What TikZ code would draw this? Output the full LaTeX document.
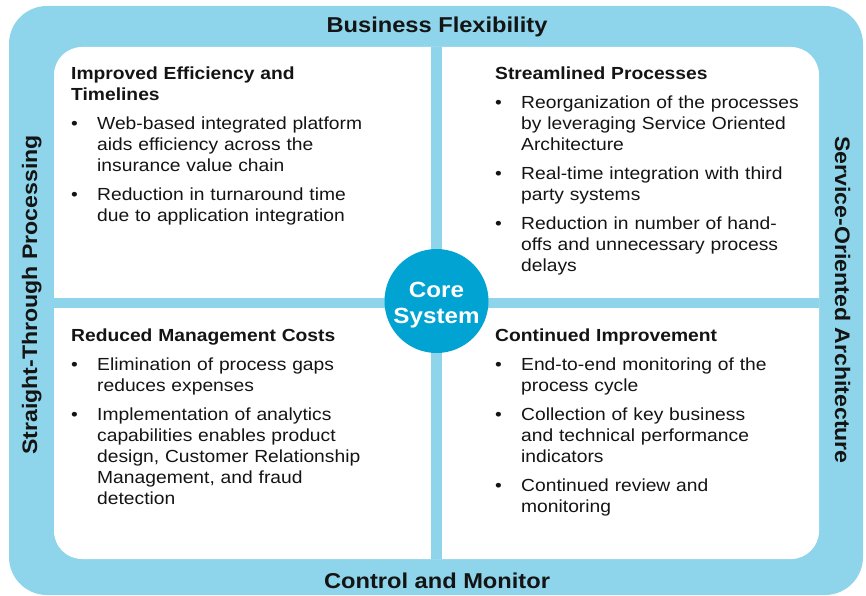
\documentclass[tikz,border=0pt]{standalone}
\usepackage{fontspec}
\setmainfont{Liberation Sans}[FakeStretch=1.1]

\definecolor{frameblue}{RGB}{142,212,234}
\definecolor{coreblue}{RGB}{0,163,209}
\definecolor{ink}{RGB}{20,20,20}

\newcommand{\panelhead}[1]{\noindent{\bfseries #1}\par}
\newcommand{\panelpoint}[1]{\par\vskip 8pt\hangindent=26pt\hangafter=1\noindent\makebox[26pt][l]{\textbullet}#1\par}

\begin{document}
\begin{tikzpicture}[
    x=1pt, y=-1pt,
    panel/.style={
      anchor=base west,
      inner sep=0pt,
      text width=330pt,
      text=ink,
      font=\fontsize{17.5}{21}\selectfont,
    },
    side/.style={
      anchor=base,
      inner sep=0pt,
      text=ink,
      font=\fontsize{21}{25}\selectfont\bfseries,
    },
    core/.style={
      circle,
      fill=coreblue,
      minimum size=104pt,
      inner sep=0pt,
    },
    core text/.style={
      inner sep=0pt,
      text=white,
      align=center,
      font=\fontsize{22}{26}\selectfont\bfseries,
    },
  ]
  \useasboundingbox (0,0) rectangle (866,596);

  \fill[frameblue, rounded corners=38pt] (9,6) rectangle (863,595);
  \fill[white, rounded corners=28pt] (54,47) rectangle (819,559);
  \fill[frameblue] (431,47) rectangle (442,559);
  \fill[frameblue] (54,298) rectangle (819,308);

  \node[side, font=\fontsize{21.5}{25}\selectfont\bfseries] (flex) at (437,33) {Business Flexibility};
  \node[side, font=\fontsize{21.5}{25}\selectfont\bfseries] (monitor) at (437,588) {Control and Monitor};
  \node[side, rotate=90] (stp) at (37,295) {Straight-Through Processing};
  \node[side, rotate=-90] (soa) at (835,300) {Service-Oriented Architecture};

  \node[panel] (efficiency) at (71,80) {
    \panelhead{Improved Efficiency and\newline Timelines}
    \panelpoint{Web-based integrated platform\newline aids efficiency across the\newline insurance value chain}
    \panelpoint{Reduction in turnaround time\newline due to application integration}
  };
  \node[panel] (streamlined) at (495,80) {
    \panelhead{Streamlined Processes}
    \panelpoint{Reorganization of the processes\newline by leveraging Service Oriented\newline Architecture}
    \panelpoint{Real-time integration with third\newline party systems}
    \panelpoint{Reduction in number of hand-\newline offs and unnecessary process\newline delays}
  };
  \node[panel] (costs) at (71,341) {
    \panelhead{Reduced Management Costs}
    \panelpoint{Elimination of process gaps\newline reduces expenses}
    \panelpoint{Implementation of analytics\newline capabilities enables product\newline design, Customer Relationship\newline Management, and fraud\newline detection}
  };
  \node[panel] (improvement) at (495,341) {
    \panelhead{Continued Improvement}
    \panelpoint{End-to-end monitoring of the\newline process cycle}
    \panelpoint{Collection of key business\newline and technical performance\newline indicators}
    \panelpoint{Continued review and\newline monitoring}
  };

  \node[core] (core) at (436.5,301) {};
  \node[core text, yshift=-4pt] (coretext) at (core) {Core\\System};
\end{tikzpicture}
\end{document}
